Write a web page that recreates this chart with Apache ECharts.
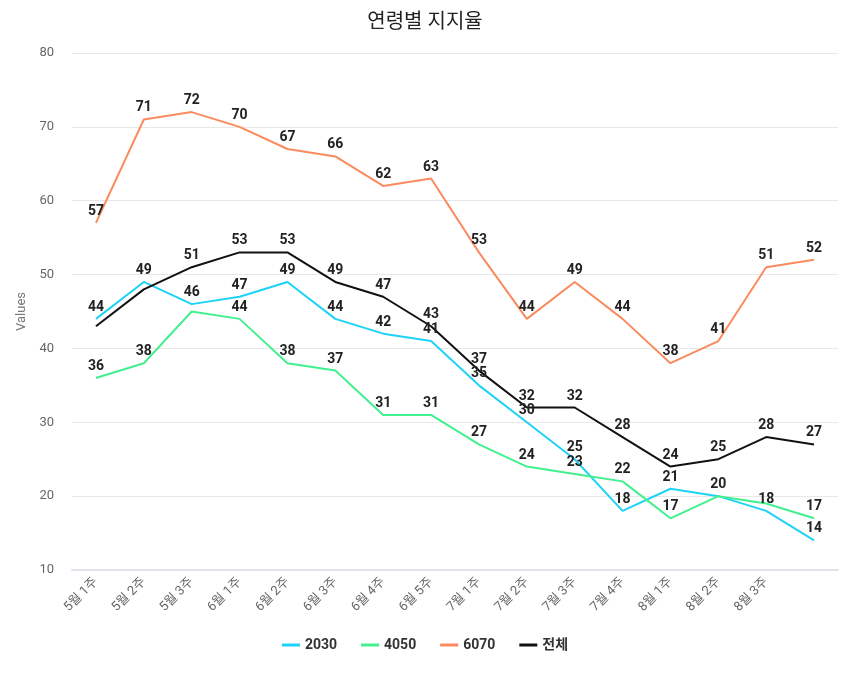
<!DOCTYPE html>
<html>
<head>
<meta charset="utf-8">
<script src="https://cdn.jsdelivr.net/npm/echarts@6/dist/echarts.min.js"></script>
<style>html,body{margin:0;padding:0;background:#fff}#c{width:850px;height:674px}</style>
</head>
<body>
<div id="c"></div>
<script>
var categories = ['5월 1주','5월 2주','5월 3주','6월 1주','6월 2주','6월 3주','6월 4주','6월 5주','7월 1주','7월 2주','7월 3주','7월 4주','8월 1주','8월 2주','8월 3주',''];
var s2030 = [44,49,46,47,49,44,42,41,35,30,25,18,21,20,18,14];
var s4050 = [36,38,45,44,38,37,31,31,27,24,23,22,17,20,19,17];
var s6070 = [57,71,72,70,67,66,62,63,53,44,49,44,38,41,51,52];
var sAll  = [43,48,51,53,53,49,47,43,37,32,32,28,24,25,28,27];
var seriesNames = ['2030','4050','6070','전체'];
var colors = ['#1fd2f7','#42f08d','#fb8a5e','#111111'];

var font = 'Roboto, "Noto Sans CJK KR", sans-serif';
function mk(name, data, color){
  return {
    name: name, type: 'line', data: data,
    symbol: 'circle', symbolSize: 1, showSymbol: true,
    itemStyle: {color: color, opacity: 0},
    lineStyle: {color: color, width: 2},
    label: {show: true, position: 'top', distance: 4, color: '#222', fontWeight: 'bold', fontSize: 14, fontFamily: font, opacity: 1},
    labelLayout: {hideOverlap: true},
    emphasis: {disabled: true}
  };
}
var chart = echarts.init(document.getElementById('c'), null, {renderer: 'canvas'});
chart.setOption({
  animation: false,
  color: colors,
  textStyle: {fontFamily: font},
  title: {text: '연령별 지지율', left: 'center', top: 8, textStyle: {fontSize: 20, fontWeight: 'normal', color: '#222', fontFamily: font}},
  grid: {left: 72, right: 12, top: 53, bottom: 104},
  legend: {bottom: 17, left: 'center', itemWidth: 18, itemHeight: 3, itemGap: 24,
    icon: 'rect', itemStyle: {opacity: 1},
    textStyle: {fontSize: 14, fontWeight: 'bold', color: '#333', fontFamily: font},
    data: seriesNames},
  xAxis: {type: 'category', data: categories, boundaryGap: true,
    axisLine: {lineStyle: {color: '#dfe2ec', width: 2}}, axisTick: {show: false},
    axisLabel: {rotate: 45, color: '#666', fontSize: 13, margin: 10, interval: 0, fontFamily: font}},
  yAxis: {type: 'value', min: 10, max: 80, interval: 10, name: 'Values', nameLocation: 'middle', nameGap: 44,
    nameTextStyle: {color: '#777', fontSize: 13, fontFamily: font},
    axisLabel: {color: '#666', fontSize: 13, margin: 18, fontFamily: font},
    splitLine: {lineStyle: {color: '#e8e8e8'}}},
  series: [mk(seriesNames[0], s2030, colors[0]), mk(seriesNames[1], s4050, colors[1]), mk(seriesNames[2], s6070, colors[2]), mk(seriesNames[3], sAll, colors[3])]
});
</script>
</body>
</html>
